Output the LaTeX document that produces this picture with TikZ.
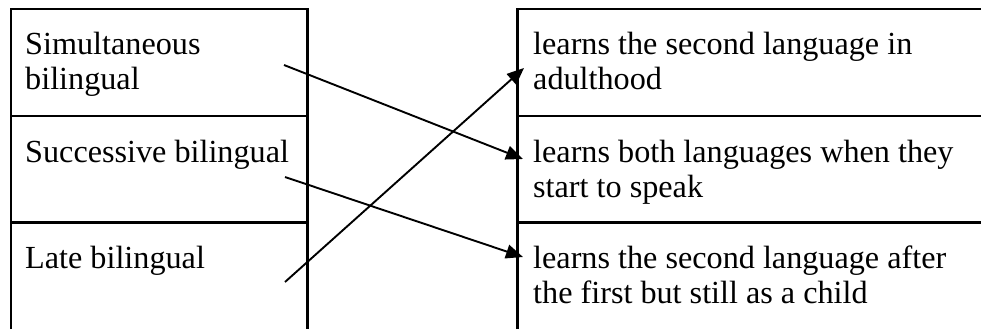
\documentclass[tikz,border=0pt]{standalone}
\usepackage{fontspec}
\setmainfont{Liberation Serif}
\usetikzlibrary{arrows.meta}
\begin{document}
\begin{tikzpicture}[x=1pt,y=-1pt,
  gridline/.style={line width=2.2pt},
  celltext/.style={anchor=base west,inner sep=0pt,font=\fontsize{32.2}{35}\selectfont},
  link/.style={line width=1.9pt,-{Triangle[length=17pt,width=14pt]}}]
\useasboundingbox (0,0) rectangle (981,329);
% left table grid
\draw[gridline] (11,329) -- (11,9) -- (307.5,9) -- (307.5,329);
\draw[gridline] (11,116) -- (307.5,116);
\draw[gridline] (11,222.5) -- (307.5,222.5);
% right table grid
\draw[gridline] (517.5,329) -- (517.5,9) -- (985,9);
\draw[gridline] (517.5,116) -- (985,116);
\draw[gridline] (517.5,222.5) -- (985,222.5);
% texts
\node[celltext] (sim) at (25,55) {\parbox[t]{270pt}{Simultaneous\\bilingual}};
\node[celltext] (suc) at (25,162) {\parbox[t]{280pt}{Successive bilingual}};
\node[celltext] (late) at (25,268) {\parbox[t]{270pt}{Late bilingual}};
\node[celltext] (adult) at (533,55) {\parbox[t]{440pt}{learns the second language in\\adulthood}};
\node[celltext] (both) at (533,162) {\parbox[t]{440pt}{learns both languages when they\\start to speak}};
\node[celltext] (after) at (533,268) {\parbox[t]{440pt}{learns the second language after\\the first but still as a child}};
% connector ends
\coordinate (s1) at (284,65);
\coordinate (s2) at (285,177);
\coordinate (s3) at (285,282);
\coordinate (e1) at (523,159);
\coordinate (e2) at (523,257);
\coordinate (e3) at (524,68);
\draw[link] (s1) -- (e1);
\draw[link] (s2) -- (e2);
\draw[link] (s3) -- (e3);
\end{tikzpicture}
\end{document}
